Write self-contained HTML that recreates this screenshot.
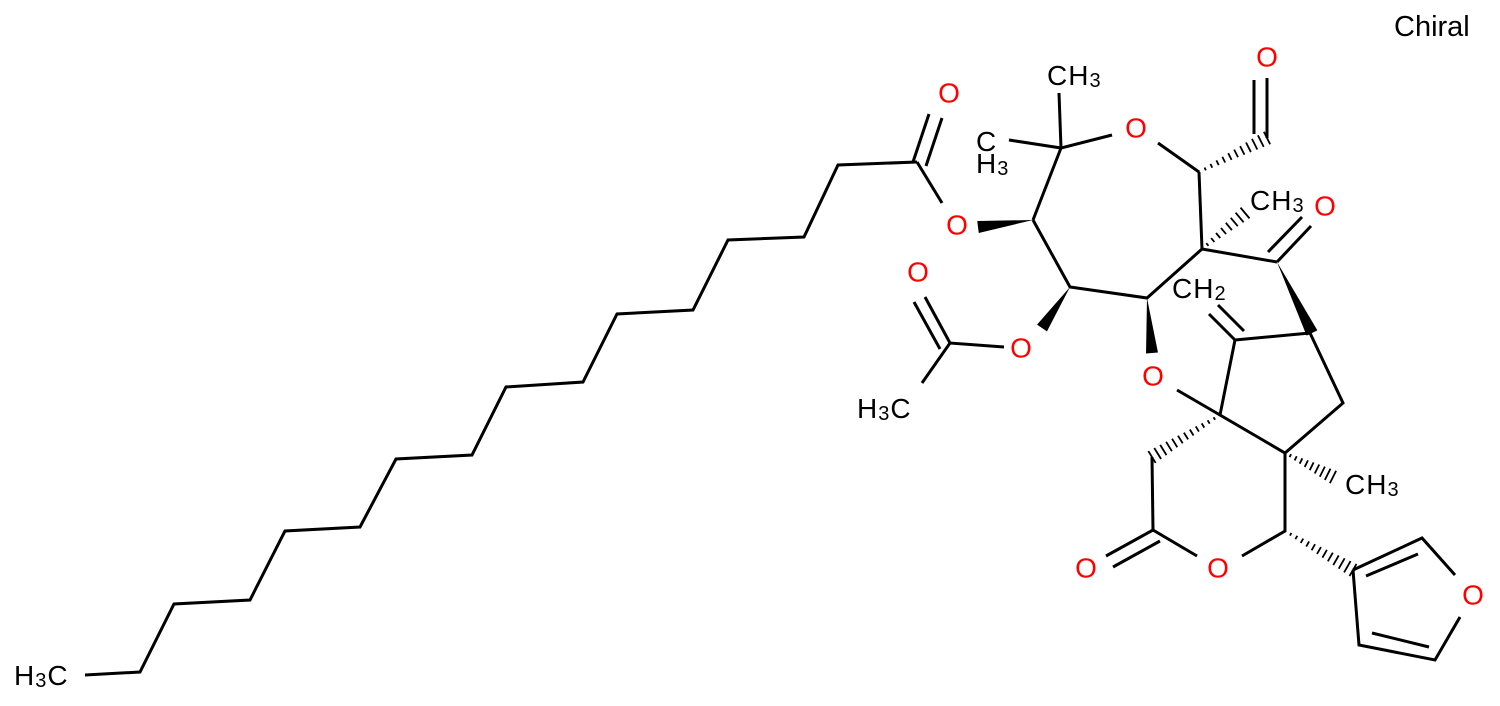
<!DOCTYPE html>
<html><head><meta charset="utf-8"><style>
html,body{margin:0;padding:0;background:#fff;}
svg{display:block}
text{font-family:"Liberation Sans",sans-serif;font-size:28px;}
.o{fill:#ff0000;text-anchor:middle;dominant-baseline:central}
.k{fill:#000;letter-spacing:1px}
</style></head><body>
<svg id="s" width="1500" height="706" viewBox="0 0 1500 706" xmlns="http://www.w3.org/2000/svg">
<g stroke="#000" stroke-width="3" fill="none" stroke-linecap="butt">
<polyline points="85,675 140,672 174,604 250,600 285,531 360,527 396,459 472,455 506,387 583,382 617,314 693,310 728,240 804,237 838,165 917,162"/>
<line x1="917" y1="162" x2="942" y2="203"/>
<line x1="913" y1="162" x2="929" y2="114"/>
<line x1="926" y1="166" x2="942" y2="118"/>
<polyline points="1033,220 1061,148 1112,135"/>
<line x1="1061" y1="148" x2="1059" y2="93"/>
<line x1="1061" y1="148" x2="1009" y2="140"/>
<line x1="1158" y1="143" x2="1199" y2="172"/>
<polyline points="1199,172 1202,249 1147,298 1070,287 1033,220"/>
<line x1="1202" y1="249" x2="1277" y2="262"/>
<line x1="1267" y1="138" x2="1267" y2="78"/>
<line x1="1254" y1="134" x2="1254" y2="80"/>
<line x1="1277" y1="262" x2="1311" y2="226"/>
<line x1="1268" y1="252" x2="1302" y2="217"/>
<line x1="1235" y1="340" x2="1209" y2="314"/>
<line x1="1244" y1="331" x2="1218" y2="305"/>
<line x1="1235" y1="340" x2="1310" y2="333"/>
<polyline points="1310,333 1343,403 1285,453 1220,415 1235,340"/>
<line x1="1177" y1="390" x2="1220" y2="415"/>
<polyline points="1152,457 1153,530 1197,556"/>
<line x1="1153" y1="530" x2="1106" y2="556"/>
<line x1="1160" y1="541" x2="1113" y2="567"/>
<polyline points="1242,556 1285,531 1285,453"/>
<polyline points="1004,347 950,343 922,383"/>
<line x1="950" y1="343" x2="925" y2="297"/>
<line x1="940" y1="349" x2="914" y2="302"/>
<polyline points="1353,570 1422,538 1455,575"/>
<polyline points="1460,617 1435,660 1359,645 1353,570"/>
<line x1="1366" y1="576" x2="1418" y2="554"/>
<line x1="1372" y1="633" x2="1429" y2="647"/>
</g>
<g id="st"></g>
<g>
<text class="o" x="949" y="93">O</text>
<text class="o" x="957" y="225">O</text>
<text class="o" x="1021" y="348">O</text>
<text class="o" x="918" y="272">O</text>
<text class="o" x="1153" y="376">O</text>
<text class="o" x="1136" y="128">O</text>
<text class="o" x="1267" y="57">O</text>
<text class="o" x="1325" y="206">O</text>
<text class="o" x="1086" y="568">O</text>
<text class="o" x="1218" y="568">O</text>
<text class="o" x="1473" y="595">O</text>
<text class="k" x="1047" y="85">CH<tspan font-size="20" dy="2">3</tspan></text>
<text class="k" x="976" y="151">C</text>
<text class="k" x="976" y="173">H<tspan font-size="20" dy="2">3</tspan></text>
<text class="k" x="1250" y="210">CH<tspan font-size="20" dy="2">3</tspan></text>
<text class="k" x="1172" y="298">CH<tspan font-size="20" dy="2">2</tspan></text>
<text class="k" x="1345" y="494">CH<tspan font-size="20" dy="2">3</tspan></text>
<text class="k" x="857" y="418">H<tspan font-size="20" dy="2">3</tspan><tspan dy="-2">C</tspan></text>
<text class="k" x="14" y="685">H<tspan font-size="20" dy="2">3</tspan><tspan dy="-2">C</tspan></text>
<text class="k" x="1394" y="36" style="font-size:29px;letter-spacing:0">Chiral</text>
</g>
</svg>
<script>
var g=document.getElementById('st'),NS='http://www.w3.org/2000/svg';
function hash(x1,y1,x2,y2,w,n){var dx=x2-x1,dy=y2-y1,L=Math.hypot(dx,dy),px=-dy/L,py=dx/L;
for(var i=0;i<=n;i++){var t=i/n,cx=x1+dx*t,cy=y1+dy*t,h=1+(w-1)*t;var l=document.createElementNS(NS,'line');
l.setAttribute('x1',cx+px*h);l.setAttribute('y1',cy+py*h);l.setAttribute('x2',cx-px*h);l.setAttribute('y2',cy-py*h);
l.setAttribute('stroke','#000');l.setAttribute('stroke-width','1.8');g.appendChild(l);}}
function wedge(x1,y1,x2,y2,w){var dx=x2-x1,dy=y2-y1,L=Math.hypot(dx,dy),px=-dy/L*w,py=dx/L*w;
var p=document.createElementNS(NS,'polygon');p.setAttribute('points',x1+','+y1+' '+(x2+px)+','+(y2+py)+' '+(x2-px)+','+(y2-py));p.setAttribute('fill','#000');g.appendChild(p);}
hash(1199,172,1267,138,7,11);
hash(1202,249,1245,213,7,8);
hash(1220,415,1152,457,7,12);
hash(1285,453,1333,477,7,9);
hash(1285,531,1353,570,7,12);
wedge(1033,220,978,227,6);
wedge(1070,287,1042,328,6);
wedge(1147,298,1152,353,6);
wedge(1277,262,1312,333,6);
</script>
</body></html>
